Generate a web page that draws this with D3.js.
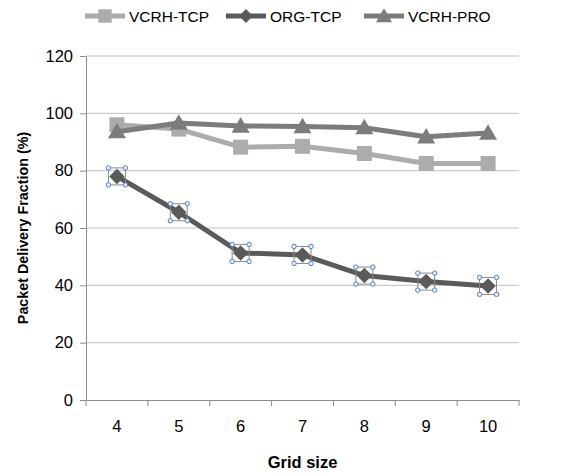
<!DOCTYPE html>
<html><head><meta charset="utf-8">
<script src="https://cdn.jsdelivr.net/npm/d3@7"></script>
<style>body{margin:0;background:#fff}svg{display:block}</style>
</head><body>
<script>
const categories = ["4","5","6","7","8","9","10"];
const vcrhTcp = [96, 94.5, 88.2, 88.5, 86, 82.5, 82.5];
const orgTcp = [78, 65.5, 51.3, 50.6, 43.4, 41.3, 39.8];
const vcrhPro = [93.6, 96.6, 95.6, 95.4, 95, 91.8, 93.1];
const yTicks = [0, 20, 40, 60, 80, 100, 120];
const seriesNames = ["VCRH-TCP", "ORG-TCP", "VCRH-PRO"];

const W = 570, H = 476;
const m = {left: 86, right: 51, top: 56, bottom: 76};
const svg = d3.select("body").append("svg").attr("width", W).attr("height", H);
const font = "'Liberation Sans', Arial, sans-serif";

const x = d3.scaleBand().domain(categories).range([m.left, W - m.right]);
const y = d3.scaleLinear().domain([0, 120]).range([H - m.bottom, m.top]);

// gridlines
svg.append("g").selectAll("line").data(yTicks.filter(d => d > 0)).join("line")
  .attr("x1", m.left).attr("x2", W - m.right)
  .attr("y1", d => y(d)).attr("y2", d => y(d))
  .attr("stroke", "#c0c0c0").attr("stroke-width", 1);

// y axis
const yAxis = svg.append("g").attr("transform", `translate(${m.left},0)`)
  .call(d3.axisLeft(y).tickValues(yTicks).tickSize(6).tickPadding(7));
yAxis.select(".domain").attr("stroke", "#8c8c8c");
yAxis.selectAll(".tick line").attr("stroke", "#8c8c8c");
yAxis.selectAll("text").attr("font-family", font).attr("font-size", 16.5).attr("fill", "#000");

// x axis
const xAxis = svg.append("g").attr("transform", `translate(0,${y(0)})`)
  .call(d3.axisBottom(x).tickSize(0).tickPadding(20));
xAxis.select(".domain").attr("stroke", "#8c8c8c");
xAxis.selectAll("text").attr("font-family", font).attr("font-size", 16.5).attr("fill", "#000");
// tick marks between categories
const bounds = categories.map(c => x(c)).concat([x(categories[categories.length-1]) + x.bandwidth()]);
svg.append("g").selectAll("line").data(bounds).join("line")
  .attr("x1", d => d).attr("x2", d => d).attr("y1", y(0)).attr("y2", y(0) + 6)
  .attr("stroke", "#8c8c8c");

// axis titles
svg.append("text").attr("x", (m.left + W - m.right) / 2).attr("y", 468)
  .attr("text-anchor", "middle").attr("font-family", font).attr("font-weight", "bold")
  .attr("font-size", 16.5).text("Grid size");
svg.append("text").attr("transform", `translate(28,${(y(0) + y(120)) / 2}) rotate(-90)`)
  .attr("text-anchor", "middle").attr("font-family", font).attr("font-weight", "bold")
  .attr("font-size", 14.3).text("Packet Delivery Fraction (%)");

const cx = c => x(c) + x.bandwidth() / 2;
const line = d3.line().x(d => cx(d[0])).y(d => y(d[1]));

const series = [
  {name: seriesNames[0], vals: vcrhTcp, color: "#acacac", sym: d3.symbolSquare, size: 225, rot: 0, dy: 0},
  {name: seriesNames[1], vals: orgTcp, color: "#5a5a5a", sym: d3.symbolSquare, size: 120, rot: 45, dy: 0},
  {name: seriesNames[2], vals: vcrhPro, color: "#7c7c7c", sym: d3.symbolTriangle, size: 140, rot: 0, dy: 1.5}
];

series.forEach((s, i) => {
  const pts = categories.map((c, j) => [c, s.vals[j]]);
  const g = svg.append("g");
  g.append("path").attr("d", line(pts)).attr("fill", "none")
    .attr("stroke", s.color).attr("stroke-width", 5).attr("stroke-linejoin", "round");
  g.selectAll("path.m").data(pts).join("path").attr("class", "m")
    .attr("transform", d => `translate(${cx(d[0])},${y(d[1]) + s.dy}) rotate(${s.rot})`)
    .attr("d", d3.symbol().type(s.sym).size(s.size)).attr("fill", s.color);
  if (i === 1) {
    // selection handles
    pts.forEach(d => {
      const px = cx(d[0]), py = y(d[1]), h = 8.5;
      g.append("rect").attr("x", px - h).attr("y", py - h).attr("width", 2 * h).attr("height", 2 * h)
        .attr("fill", "none").attr("stroke", "#8a8a8a").attr("stroke-width", 1);
      [[-h, -h], [h, -h], [-h, h], [h, h]].forEach(o => {
        g.append("circle").attr("cx", px + o[0]).attr("cy", py + o[1]).attr("r", 2.2)
          .attr("fill", "#e8f0fa").attr("stroke", "#4f81bd").attr("stroke-width", 1);
      });
    });
  }
});

// legend
const legX = [85, 226, 364];
series.forEach((s, i) => {
  const g = svg.append("g").attr("transform", `translate(${legX[i]},16)`);
  g.append("line").attr("x1", 0).attr("x2", 40).attr("y1", 0).attr("y2", 0)
    .attr("stroke", s.color).attr("stroke-width", 5);
  g.append("path").attr("transform", `translate(20,${s.dy}) rotate(${s.rot})`)
    .attr("d", d3.symbol().type(s.sym).size(s.size * 0.8)).attr("fill", s.color);
  g.append("text").attr("x", 44).attr("y", 6).attr("font-family", font).attr("font-size", 15.5)
    .text(s.name);
});
</script>
</body></html>
